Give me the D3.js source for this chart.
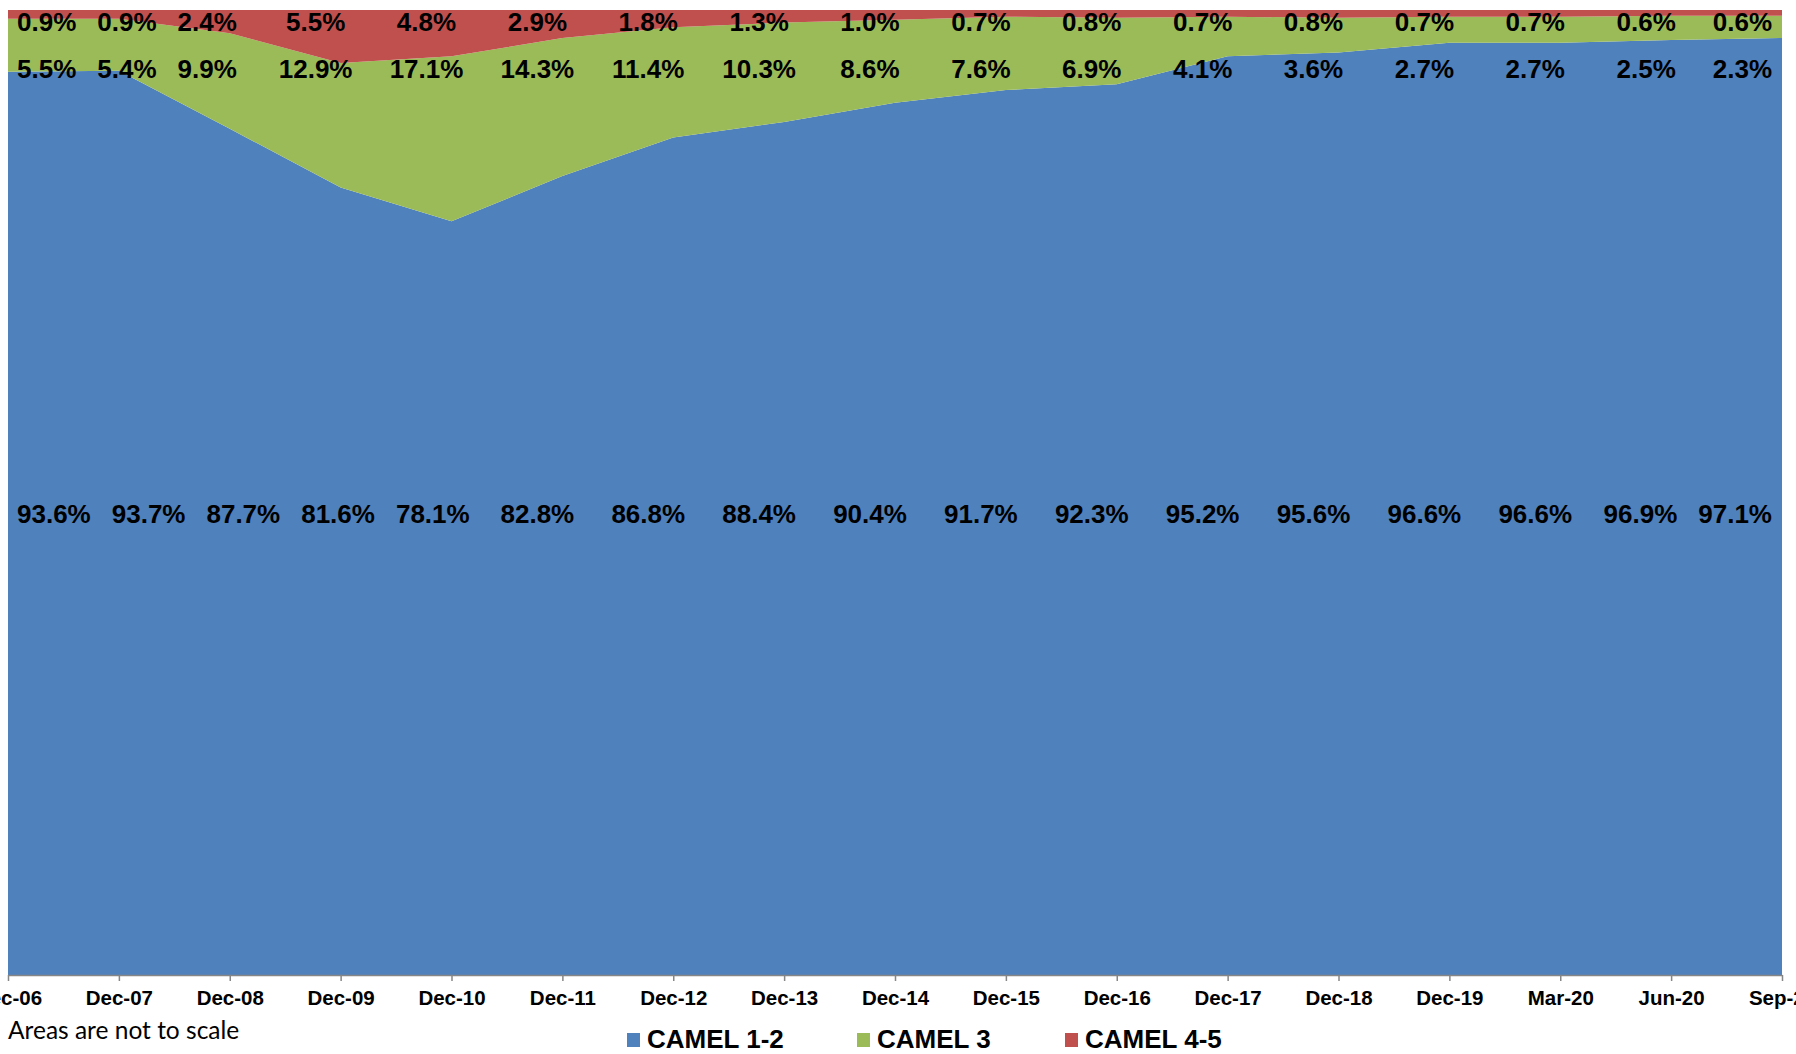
<!DOCTYPE html>
<html>
<head>
<meta charset="utf-8">
<script src="https://cdn.jsdelivr.net/npm/d3@7"></script>
<style>
  html, body { margin: 0; padding: 0; background: #fff; }
  svg { display: block; }
  .bold { font-family: "Liberation Sans", Arial, sans-serif; font-weight: bold; }
</style>
</head>
<body>
<svg id="chart" width="1796" height="1054"></svg>
<script>
const categories = ["Dec-06","Dec-07","Dec-08","Dec-09","Dec-10","Dec-11","Dec-12","Dec-13","Dec-14","Dec-15","Dec-16","Dec-17","Dec-18","Dec-19","Mar-20","Jun-20","Sep-20"];
const camel12 = [93.6,93.7,87.7,81.6,78.1,82.8,86.8,88.4,90.4,91.7,92.3,95.2,95.6,96.6,96.6,96.9,97.1];
const camel3  = [5.5,5.4,9.9,12.9,17.1,14.3,11.4,10.3,8.6,7.6,6.9,4.1,3.6,2.7,2.7,2.5,2.3];
const camel45 = [0.9,0.9,2.4,5.5,4.8,2.9,1.8,1.3,1.0,0.7,0.8,0.7,0.8,0.7,0.7,0.6,0.6];
const seriesNames = ["CAMEL 1-2","CAMEL 3","CAMEL 4-5"];
const note = "Areas are not to scale";

const colors = ["#4F81BD","#9BBB59","#C0504D"];
const W = 1796, H = 1054;
const m = {left: 8, right: 14, top: 10, bottom: 79};
const svg = d3.select("#chart");

const table = categories.map((c,i) => ({cat: c, s0: camel12[i], s1: camel3[i], s2: camel45[i]}));
const keys = ["s0","s1","s2"];
const stack = d3.stack().keys(keys)(table);

const x = d3.scalePoint().domain(categories).range([m.left, W - m.right]);
const y = d3.scaleLinear().domain([0,100]).range([H - m.bottom, m.top]);

const area = d3.area()
  .x(d => x(d.data.cat))
  .y0(d => y(d[0]))
  .y1(d => y(d[1]));

svg.append("g").selectAll("path").data(stack).join("path")
  .attr("d", area)
  .attr("fill", (d,i) => colors[i]);

// x axis
const axis = d3.axisBottom(x).tickSize(6).tickSizeOuter(0).tickPadding(0);
const gx = svg.append("g").attr("transform", `translate(0,${H - m.bottom})`).call(axis);
gx.select(".domain").attr("stroke", "#868686").attr("stroke-width", 1.5);
gx.selectAll(".tick line").attr("stroke", "#868686").attr("stroke-width", 1.5);
gx.selectAll(".tick text").attr("class","bold").attr("font-size", 20.5).attr("fill","#000")
  .attr("y", 30).attr("dy", 0);

// data labels: near each category, nudged left, then spread so they don't collide
const labelY = [523, 78, 31];
const left = m.left, right = W - m.right;
stack.forEach((s, k) => {
  const txt = svg.append("g").selectAll("text").data(s).join("text")
    .attr("class","bold")
    .attr("font-size", 26)
    .attr("text-anchor","middle")
    .attr("y", labelY[k])
    .text(d => (d[1]-d[0]).toFixed(1) + "%");
  const nodes = txt.nodes();
  const w = nodes.map(n => n.getComputedTextLength());
  const pos = s.map(d => x(d.data.cat) - 25);
  const n = pos.length;
  for (let i = 0; i < n; i++) {
    pos[i] = Math.max(pos[i], left + 9 + w[i]/2);
    if (i > 0) pos[i] = Math.max(pos[i], pos[i-1] + (w[i-1] + w[i])/2 + 21);
  }
  for (let i = n - 1; i >= 0; i--) {
    pos[i] = Math.min(pos[i], right - 10 - w[i]/2);
    if (i < n - 1) pos[i] = Math.min(pos[i], pos[i+1] - (w[i+1] + w[i])/2 - 21);
  }
  txt.attr("x", (d,i) => pos[i]);
});

// note
svg.append("text").attr("x", 8).attr("y", 1039)
  .attr("font-family", "Lato, 'Open Sans', sans-serif").attr("font-size", 24.5)
  .text(note);

// legend
const legX = [627, 857, 1065];
const lg = svg.append("g").selectAll("g").data(seriesNames).join("g")
  .attr("transform", (d,i) => `translate(${legX[i]},1033)`);
lg.append("rect").attr("width", 13).attr("height", 14).attr("fill", (d,i) => colors[i]);
lg.append("text").attr("class","bold").attr("font-size", 26)
  .attr("x", 20).attr("y", 15).text(d => d);
</script>
</body>
</html>
